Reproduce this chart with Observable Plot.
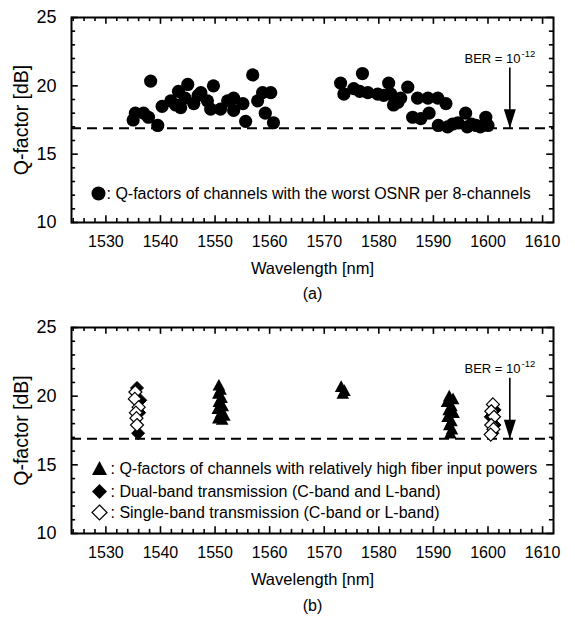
<!DOCTYPE html>
<html><head><meta charset="utf-8">
<script src="https://cdn.jsdelivr.net/npm/d3@7"></script>
<script src="https://cdn.jsdelivr.net/npm/@observablehq/plot@0.6"></script>
<style>
body{margin:0;background:#fff;}
#chart{width:575px;}
#chart svg{display:block;}
</style></head><body><div id="chart"></div>
<script>
// ---- axes ----
const xDomain = [1523.7, 1612];
const yDomain = [10, 25];
const xTicks = [1530, 1540, 1550, 1560, 1570, 1580, 1590, 1600, 1610];
const xMinorTicks = [1524,1526,1528,1532,1534,1536,1538,1542,1544,1546,1548,1552,1554,1556,1558,1562,1564,1566,1568,1572,1574,1576,1578,1582,1584,1586,1588,1592,1594,1596,1598,1602,1604,1606,1608];
const yTicks = [10, 15, 20, 25];
const yMinorTicks = [11, 12, 13, 14, 16, 17, 18, 19, 21, 22, 23, 24];
const berQ = 16.9;            // Q-factor for BER = 1e-12 (dashed line)
const berArrowWL = 1604.0;    // arrow position
const berArrowTopQ = 21.3;

// ---- (a) worst-OSNR channels ----
const worstWL = [1535.0,1535.4,1536.9,1537.8,1538.2,1539.5,1540.3,1541.9,1542.8,1543.3,1543.7,1545.0,1544.5,1546.1,1546.9,1547.4,1548.6,1549.2,1549.7,1551.0,1552.3,1553.4,1553.4,1555.1,1555.6,1556.9,1557.8,1558.7,1559.2,1560.2,1560.7,
  1573.0,1573.6,1575.4,1577.0,1576.5,1578.0,1579.8,1580.9,1581.8,1582.2,1582.7,1584.0,1583.5,1585.3,1586.2,1587.1,1587.7,1589.0,1589.2,1590.8,1590.9,1592.3,1592.6,1593.5,1594.5,1595.9,1596.2,1597.0,1597.8,1598.6,1599.6,1600.0];
const worstQ = [17.5,18.0,18.0,17.7,20.35,17.1,18.5,18.9,18.6,19.6,18.4,20.1,19.1,18.7,19.3,19.5,18.9,18.3,20.0,18.3,18.9,19.1,18.2,18.7,17.4,20.8,18.9,19.5,18.0,19.5,17.3,
  20.2,19.4,19.8,20.9,19.6,19.5,19.4,19.3,20.2,19.4,18.6,19.1,18.8,19.9,17.7,19.1,17.6,19.1,18.0,19.1,17.1,18.7,17.0,17.2,17.3,18.0,17.0,17.2,17.1,17.0,17.7,17.1];

// ---- (b) high-power channels, dual band, single band ----
const highWL = [1550.7,1551.0,1550.6,1551.2,1550.7,1551.4,1550.5,1551.1,1551.7,1550.6,1551.3,
  1573.1,1573.7,1573.4,
  1592.9,1593.6,1592.5,1593.3,1592.8,1593.7,1592.6,1593.3,1592.9,1593.4,1593.1];
const highQ = [20.8,20.5,20.2,19.9,19.6,19.3,19.1,18.8,18.6,18.4,18.3,
  20.7,20.4,20.2,
  20.0,19.8,19.6,19.3,19.0,18.8,18.5,18.2,17.9,17.6,17.3];
const dualWL = [1535.7,1536.3,1536.1,1535.9, 1601.2,1600.5,1601.2,1600.8];
const dualQ  = [20.6,19.7,18.8,17.3, 19.0,18.5,17.9,17.3];
const singleWL = [1535.4,1535.3,1536.0,1535.5,1535.6,1535.7, 1600.9,1600.6,1601.1,1600.6,1601.0,1600.5];
const singleQ  = [20.3,19.8,19.2,18.8,18.4,17.9, 19.4,18.9,18.5,17.9,17.6,17.2];

const legendA = [": Q-factors of channels with the worst OSNR per 8-channels"];
const legendB = [": Q-factors of channels with relatively high fiber input powers",
                 ": Dual-band transmission (C-band and L-band)",
                 ": Single-band transmission (C-band or L-band)"];

// ---- custom symbols ----
const triSym = {draw(c, size){ const r = Math.sqrt(size/Math.PI); c.moveTo(0,-r); c.lineTo(r, r*0.85); c.lineTo(-r, r*0.85); c.closePath(); }};
const diaSym = {draw(c, size){ const r = Math.sqrt(size/Math.PI); c.moveTo(0,-r); c.lineTo(r,0); c.lineTo(0,r); c.lineTo(-r,0); c.closePath(); }};
const headSym = {draw(c){ c.moveTo(0,0); c.lineTo(-6,-19); c.lineTo(6,-19); c.closePath(); }};

const FONT = '"Liberation Sans", Arial, Helvetica, sans-serif';
const tickLenQ = 0.5, tickLenQm = 0.3, tickLenWL = 1.25, tickLenWLm = 0.75;

function frameMarks(){
  const [x0,x1] = xDomain, [y0,y1] = yDomain;
  return [
    Plot.axisX(xTicks, {tickSize: 0, tickPadding: 13, fontSize: 16, tickFormat: d => String(d), label: null}),
    Plot.axisY(yTicks, {tickSize: 0, tickPadding: 15, fontSize: 18, tickFormat: d => String(d), label: null}),
    Plot.axisY({ticks: [], tickSize: 0, label: "Q-factor [dB]", labelAnchor: "center", labelOffset: 57, labelArrow: "none", fontSize: 19.5}),
    Plot.ruleX(xTicks, {x: d => d, y1: y0, y2: y0 + tickLenQ, strokeWidth: 1.6}),
    Plot.ruleX(xTicks, {x: d => d, y1: y1, y2: y1 - tickLenQ, strokeWidth: 1.6}),
    Plot.ruleX(xMinorTicks, {x: d => d, y1: y0, y2: y0 + tickLenQm, strokeWidth: 1.6}),
    Plot.ruleX(xMinorTicks, {x: d => d, y1: y1, y2: y1 - tickLenQm, strokeWidth: 1.6}),
    Plot.ruleY(yTicks, {y: d => d, x1: x0, x2: x0 + tickLenWL, strokeWidth: 1.6}),
    Plot.ruleY(yTicks, {y: d => d, x1: x1, x2: x1 - tickLenWL, strokeWidth: 1.6}),
    Plot.ruleY(yMinorTicks, {y: d => d, x1: x0, x2: x0 + tickLenWLm, strokeWidth: 1.6}),
    Plot.ruleY(yMinorTicks, {y: d => d, x1: x1, x2: x1 - tickLenWLm, strokeWidth: 1.6}),
    Plot.frame({strokeWidth: 2}),
    Plot.ruleY([berQ], {y: d => d, strokeWidth: 2, strokeDasharray: "10,6"}),
    Plot.ruleX([berArrowWL], {x: d => d, y1: berQ, y2: berArrowTopQ, strokeWidth: 1.6}),
    Plot.dot([berArrowWL], {x: d => d, y: berQ, symbol: headSym, fill: "black", stroke: "none", r: 5}),
    Plot.text(["BER = 10"], {frameAnchor: "top-right", dx: -33, dy: 41, textAnchor: "end", lineAnchor: "middle", fontSize: 13}),
    Plot.text(["-12"], {frameAnchor: "top-right", dx: -32, dy: 36, textAnchor: "start", lineAnchor: "middle", fontSize: 9.5}),
    Plot.text(["Wavelength [nm]"], {frameAnchor: "bottom", dy: 46, lineAnchor: "middle", fontSize: 16.5})
  ];
}

function makePlot({height, marginTop, marginBottom, marks}){
  return Plot.plot({
    width: 575, height, marginLeft: 71, marginRight: 22, marginTop, marginBottom,
    style: {fontFamily: FONT, fontSize: "14px", color: "black", background: "white", overflow: "visible"},
    x: {domain: xDomain, label: null, axis: null},
    y: {domain: yDomain, label: null, axis: null},
    marks: [...frameMarks(), ...marks]
  });
}

const idxA = worstWL.map((_, i) => i);
const idxH = highWL.map((_, i) => i);
const idxD = dualWL.map((_, i) => i);
const idxS = singleWL.map((_, i) => i);

const plotA = makePlot({
  height: 305, marginTop: 17, marginBottom: 83,
  marks: [
    Plot.dot(idxA, {x: i => worstWL[i], y: i => worstQ[i], r: 6.6, fill: "black", stroke: "none"}),
    Plot.dot(legendA, {frameAnchor: "bottom-left", dx: 27, dy: -29, r: 7, fill: "black"}),
    Plot.text(legendA, {frameAnchor: "bottom-left", dx: 35, dy: -29, textAnchor: "start", lineAnchor: "middle", fontSize: 16}),
    Plot.text(["(a)"], {frameAnchor: "bottom", dy: 71, lineAnchor: "middle", fontSize: 16})
  ]
});

const plotB = makePlot({
  height: 313, marginTop: 22, marginBottom: 85,
  marks: [
    Plot.dot(idxH, {x: i => highWL[i], y: i => highQ[i], symbol: triSym, r: 6.3, fill: "black", stroke: "none"}),
    Plot.dot(idxD, {x: i => dualWL[i], y: i => dualQ[i], symbol: diaSym, r: 6.5, fill: "black", stroke: "black", strokeWidth: 1}),
    Plot.dot(idxS, {x: i => singleWL[i], y: i => singleQ[i], symbol: diaSym, r: 6.5, fill: "white", stroke: "black", strokeWidth: 1.2}),
    Plot.dot([legendB[0]], {frameAnchor: "bottom-left", dx: 28, dy: -65, symbol: triSym, r: 7.5, fill: "black", stroke: "none"}),
    Plot.dot([legendB[1]], {frameAnchor: "bottom-left", dx: 28, dy: -42, symbol: diaSym, r: 7.5, fill: "black", stroke: "none"}),
    Plot.dot([legendB[2]], {frameAnchor: "bottom-left", dx: 28, dy: -21, symbol: diaSym, r: 7.5, fill: "white", stroke: "black", strokeWidth: 1.2}),
    Plot.text([legendB[0]], {frameAnchor: "bottom-left", dx: 39, dy: -65, textAnchor: "start", lineAnchor: "middle", fontSize: 16}),
    Plot.text([legendB[1]], {frameAnchor: "bottom-left", dx: 39, dy: -42, textAnchor: "start", lineAnchor: "middle", fontSize: 16}),
    Plot.text([legendB[2]], {frameAnchor: "bottom-left", dx: 39, dy: -21, textAnchor: "start", lineAnchor: "middle", fontSize: 16}),
    Plot.text(["(b)"], {frameAnchor: "bottom", dy: 72, lineAnchor: "middle", fontSize: 16})
  ]
});

document.getElementById("chart").append(plotA, plotB);
</script>
</body></html>
